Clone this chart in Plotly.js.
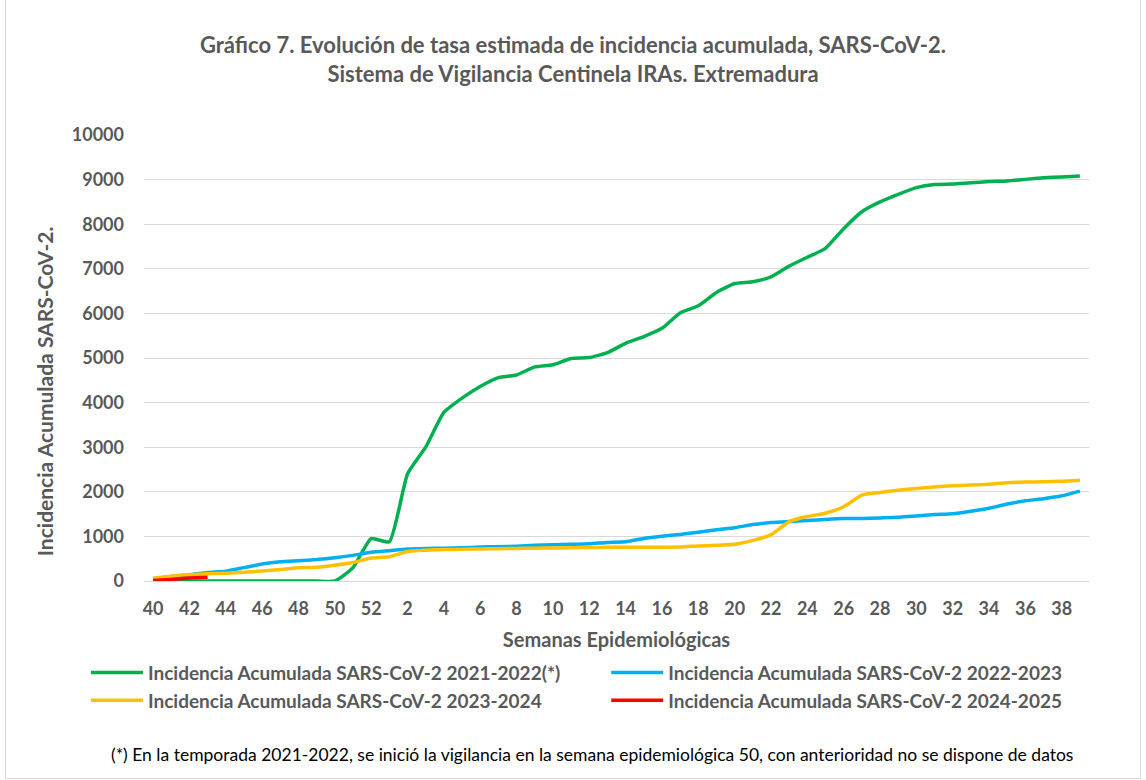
<!DOCTYPE html>
<html>
<head>
<meta charset="utf-8">
<script src="https://cdn.plot.ly/plotly-3.0.1.min.js"></script>
<style>
  body { margin: 0; background: #fff; }
  #frame { position: absolute; left: 5px; top: -1px; width: 1134px; height: 778px; border: 1px solid #d9d9d9; }
  #plotArea { position: absolute; left: 0; top: 0; width: 1146px; height: 780px; }
</style>
</head>
<body>
<div id="frame"></div>
<div id="plotArea"></div>
<script>
// semanas epidemiológicas, de la 40 a la 39
let weeks = [40, 41, 42, 43, 44, 45, 46, 47, 48, 49, 50, 51, 52,
             1, 2, 3, 4, 5, 6, 7, 8, 9, 10, 11, 12, 13, 14, 15, 16, 17, 18, 19, 20,
             21, 22, 23, 24, 25, 26, 27, 28, 29, 30, 31, 32, 33, 34, 35, 36, 37, 38, 39];

let ia2122 = [0, 0, 0, 0, 0, 0, 0, 0, 0, 0, 0, 300, 950,
              880, 2400, 3000, 3780, 4100, 4360, 4560, 4620, 4800, 4850, 4990, 5010, 5120, 5330, 5480, 5665, 6010, 6170, 6470, 6670,
              6710, 6820, 7060, 7260, 7460, 7900, 8280, 8500, 8670, 8820, 8890, 8900, 8930, 8955, 8970, 9005, 9040, 9060, 9080];

let ia2223 = [50, 100, 140, 190, 220, 300, 380, 430, 455, 480, 520, 575, 645,
              680, 715, 730, 735, 745, 760, 770, 780, 800, 815, 825, 835, 865, 880, 955, 1005, 1045, 1095, 1150, 1195,
              1265, 1310, 1335, 1355, 1380, 1400, 1400, 1415, 1430, 1460, 1490, 1510, 1565, 1630, 1725, 1800, 1845, 1910, 2015];

let ia2324 = [60, 105, 145, 160, 175, 195, 225, 258, 295, 310, 355, 415, 515,
              545, 660, 690, 705, 712, 720, 725, 730, 735, 740, 745, 752, 755, 756, 757, 758, 763, 785, 800, 822,
              910, 1035, 1330, 1445, 1520, 1665, 1925, 1985, 2035, 2075, 2110, 2135, 2150, 2170, 2205, 2220, 2225, 2237, 2260];

let ia2425 = [10, 35, 70, 85];

let seriesNames = ["Incidencia Acumulada SARS-CoV-2 2021-2022(*)",
                   "Incidencia Acumulada SARS-CoV-2 2022-2023",
                   "Incidencia Acumulada SARS-CoV-2 2023-2024",
                   "Incidencia Acumulada SARS-CoV-2 2024-2025"];
let seriesColors = ["#00B050", "#00B0F0", "#FFC000", "#FF0000"];
// columna de la leyenda de cada serie
let seriesLegend = ["legend", "legend2", "legend", "legend2"];

let idx = weeks.map((w, i) => i);
let tickIdx = idx.filter(i => i % 2 === 0);
let tickText = tickIdx.map(i => String(weeks[i]));

let grey = "#595959";
let font = "Lato, 'Open Sans', sans-serif";

let data = [ia2122, ia2223, ia2324, ia2425].map((vals, k) => ({
    x: idx.slice(0, vals.length),
    y: vals,
    type: "scatter",
    mode: "lines",
    name: seriesNames[k],
    legend: seriesLegend[k],
    line: { color: seriesColors[k], width: 3.5, shape: "spline", smoothing: 0.5 }
}));

let legendFont = { size: 19, color: grey, family: font, weight: "bold" };

let layout = {
    width: 1146, height: 780,
    paper_bgcolor: "rgba(0,0,0,0)",
    plot_bgcolor: "#fff",
    margin: { l: 144, r: 57, t: 135, b: 199, autoexpand: false },
    font: { family: font, color: grey },
    title: {
        text: "<b>Gráfico 7. Evolución de tasa estimada de incidencia acumulada, SARS-CoV-2.<br>Sistema de Vigilancia Centinela IRAs. Extremadura</b>",
        font: { size: 22, color: grey, family: font },
        x: 0.5, xref: "container", y: 0.932, yref: "container", yanchor: "top"
    },
    xaxis: {
        range: [-0.5, 51.5],
        tickvals: tickIdx, ticktext: tickText,
        tickfont: { size: 18, color: grey, family: font, weight: "bold" },
        showgrid: false, zeroline: false, showline: false, ticks: "",
        ticklabelstandoff: 15,
        title: { text: "<b>Semanas Epidemiológicas</b>", font: { size: 20, color: grey }, standoff: 14 }
    },
    yaxis: {
        range: [0, 10000], dtick: 1000, tickformat: "d",
        tickfont: { size: 18, color: grey, family: font, weight: "bold" },
        gridcolor: "#D9D9D9", gridwidth: 1,
        zeroline: true, zerolinecolor: "#D9D9D9", zerolinewidth: 1,
        showline: false, ticks: "",
        ticklabelstandoff: 19
    },
    showlegend: true,
    legend: {
        xref: "container", yref: "container",
        x: 0.075, y: 0.162, xanchor: "left", yanchor: "top",
        itemwidth: 52, tracegroupgap: 0,
        font: legendFont
    },
    legend2: {
        xref: "container", yref: "container",
        x: 0.529, y: 0.162, xanchor: "left", yanchor: "top",
        itemwidth: 52, tracegroupgap: 0,
        font: legendFont
    },
    annotations: [
        {
            text: "<b>Incidencia Acumulada SARS-CoV-2.</b>",
            xref: "paper", yref: "paper", x: -0.105, y: 0.425,
            xanchor: "center", yanchor: "middle", textangle: -90, showarrow: false,
            font: { size: 21, color: grey, family: font }
        },
        {
            text: "(*) En la temporada 2021-2022, se inició la vigilancia en la semana epidemiológica 50, con anterioridad no se dispone de datos",
            xref: "paper", yref: "paper", x: 0.4746, y: -0.388,
            xanchor: "center", yanchor: "middle", showarrow: false,
            font: { size: 17.5, color: "#000", family: font }
        }
    ]
};

Plotly.newPlot("plotArea", data, layout, { displayModeBar: false });
</script>
</body>
</html>
